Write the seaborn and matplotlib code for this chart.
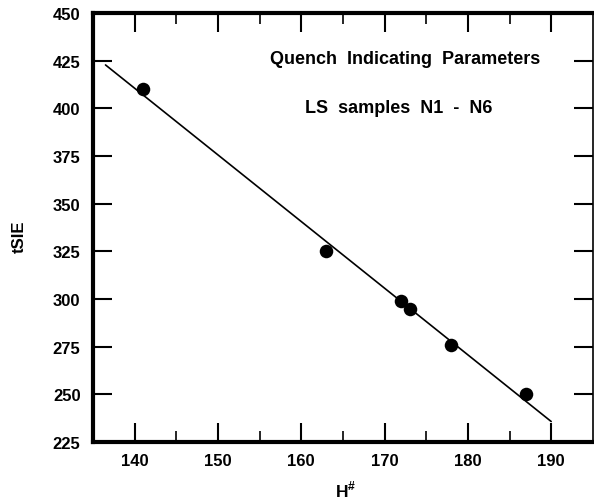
import matplotlib
matplotlib.use("Agg")
import matplotlib.pyplot as plt
import seaborn as sns
import pandas as pd
import numpy as np

# Data
h_number = [141, 163, 172, 173, 178, 187]
tsie = [410, 325, 299, 295, 276, 250]
fit_range = [136.5, 190]

x_ticks = [140, 150, 160, 170, 180, 190]
x_minor = [145, 155, 165, 175, 185]
y_ticks = [225, 250, 275, 300, 325, 350, 375, 400, 425, 450]

title1 = "Quench  Indicating  Parameters"
title2 = "LS  samples  N1  -  N6"

sns.set_theme(style="ticks")
plt.rcParams['font.family'] = ['Liberation Sans', 'DejaVu Sans']
plt.rcParams['text.color'] = 'black'
plt.rcParams['axes.labelcolor'] = 'black'
plt.rcParams['xtick.color'] = 'black'
plt.rcParams['ytick.color'] = 'black'
plt.rcParams['mathtext.fontset'] = 'custom'
plt.rcParams['mathtext.rm'] = 'Liberation Sans:bold'
plt.rcParams['mathtext.bf'] = 'Liberation Sans:bold'

df = pd.DataFrame({"H": h_number, "tSIE": tsie})

fig = plt.figure(figsize=(5.94, 5.02), dpi=100)
ax = fig.add_axes([0.1566, 0.1175, 0.998 - 0.1566, 0.9721 - 0.1175])

# regression line spanning the fit range
ax.set_xlim(fit_range[0], fit_range[1])
sns.regplot(data=df, x="H", y="tSIE", ax=ax, ci=None, truncate=False,
            scatter=False, line_kws=dict(color="black", lw=1.2))
sns.scatterplot(data=df, x="H", y="tSIE", ax=ax, color="black", s=95,
                edgecolor="black", linewidth=0, zorder=5)

ax.set_xlim(135, 195)
ax.set_ylim(225, 450)
ax.set_xticks(x_ticks)
ax.set_xticks(x_minor, minor=True)
ax.set_yticks(y_ticks)

ax.tick_params(axis="both", which="major", direction="in", length=14, width=1.5,
               top=True, right=True, labelsize=12, color="black")
ax.tick_params(axis="x", which="major", pad=8)
ax.tick_params(axis="y", which="major", pad=9)
ax.tick_params(axis="x", which="minor", direction="in", length=8, width=1.2,
               top=True, bottom=True)
for lab in ax.get_xticklabels() + ax.get_yticklabels():
    lab.set_fontweight("bold")

for side in ["left", "bottom", "top"]:
    ax.spines[side].set_linewidth(3)
    ax.spines[side].set_color("black")
ax.spines["right"].set_linewidth(1.2)
ax.spines["right"].set_color("black")

ax.set_xlabel(r"H$^{\mathbf{\#}}$", fontsize=12.5, fontweight="bold")
ax.xaxis.set_label_coords(0.505, -0.085)
ax.set_ylabel("tSIE", fontsize=12, fontweight="bold")
ax.yaxis.set_label_coords(-0.133, 0.48)

ax.text(0.625, 0.895, title1, transform=ax.transAxes, ha="center", va="center",
        fontsize=13, fontweight="bold")
ax.text(0.612, 0.78, title2, transform=ax.transAxes, ha="center", va="center",
        fontsize=13, fontweight="bold")

fig.savefig("out.png", dpi=100)
